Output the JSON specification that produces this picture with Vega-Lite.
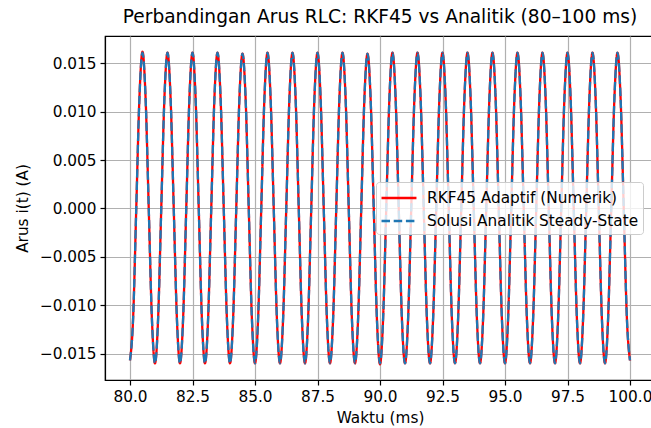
{
"$schema": "https://vega.github.io/schema/vega-lite/v6.json",
"width": 550,
"height": 344,
"autosize": {"type": "none"},
"padding": {"left": 105, "top": 36, "right": 0, "bottom": 48},
"background": "white",
"title": {"text": "Perbandingan Arus RLC: RKF45 vs Analitik (80–100 ms)", "font": "DejaVu Sans", "fontSize": 18.6, "fontWeight": "normal", "color": "black", "offset": 9, "anchor": "middle"},
"config": {
  "view": {"stroke": "black", "strokeWidth": 1.2},
  "axis": {"labelFont": "DejaVu Sans", "labelFontSize": 15.3, "labelColor": "black", "titleFont": "DejaVu Sans", "titleFontSize": 15.3, "titleFontWeight": "normal", "titleColor": "black", "domainColor": "black", "domainWidth": 1.2, "tickColor": "black", "tickWidth": 1.2, "tickSize": 5, "labelPadding": 4, "gridColor": "#b0b0b0", "gridWidth": 1.2, "grid": true}
},
"data": {"values": [
{"t":80,"r":-0.0157,"a":-0.0157},{"t":80.125,"r":-0.01131,"a":-0.01131},{"t":80.25,"r":0,"a":0},{"t":80.375,"r":0.01131,"a":0.01131},{"t":80.5,"r":0.0162,"a":0.0161},{"t":80.625,"r":0.01131,"a":0.01131},{"t":80.75,"r":0,"a":0},{"t":80.875,"r":-0.01131,"a":-0.01131},
{"t":81,"r":-0.016,"a":-0.016},{"t":81.125,"r":-0.01131,"a":-0.01131},{"t":81.25,"r":0,"a":0},{"t":81.375,"r":0.01131,"a":0.01131},{"t":81.5,"r":0.0161,"a":0.0161},{"t":81.625,"r":0.01131,"a":0.01131},{"t":81.75,"r":0,"a":0},{"t":81.875,"r":-0.01131,"a":-0.01131},
{"t":82,"r":-0.016,"a":-0.016},{"t":82.125,"r":-0.01131,"a":-0.01131},{"t":82.25,"r":0,"a":0},{"t":82.375,"r":0.01131,"a":0.01131},{"t":82.5,"r":0.0161,"a":0.0161},{"t":82.625,"r":0.01131,"a":0.01131},{"t":82.75,"r":0,"a":0},{"t":82.875,"r":-0.01131,"a":-0.01131},
{"t":83,"r":-0.016,"a":-0.016},{"t":83.125,"r":-0.01131,"a":-0.01131},{"t":83.25,"r":0,"a":0},{"t":83.375,"r":0.01131,"a":0.01131},{"t":83.5,"r":0.0161,"a":0.0161},{"t":83.625,"r":0.01131,"a":0.01131},{"t":83.75,"r":0,"a":0},{"t":83.875,"r":-0.01131,"a":-0.01131},
{"t":84,"r":-0.016,"a":-0.016},{"t":84.125,"r":-0.01131,"a":-0.01131},{"t":84.25,"r":0,"a":0},{"t":84.375,"r":0.01131,"a":0.01131},{"t":84.5,"r":0.016,"a":0.016},{"t":84.625,"r":0.01131,"a":0.01131},{"t":84.75,"r":0,"a":0},{"t":84.875,"r":-0.01131,"a":-0.01131},
{"t":85,"r":-0.016,"a":-0.016},{"t":85.125,"r":-0.01131,"a":-0.01131},{"t":85.25,"r":0,"a":0},{"t":85.375,"r":0.01131,"a":0.01131},{"t":85.5,"r":0.0161,"a":0.0161},{"t":85.625,"r":0.01131,"a":0.01131},{"t":85.75,"r":0,"a":0},{"t":85.875,"r":-0.01131,"a":-0.01131},
{"t":86,"r":-0.016,"a":-0.016},{"t":86.125,"r":-0.01131,"a":-0.01131},{"t":86.25,"r":0,"a":0},{"t":86.375,"r":0.01131,"a":0.01131},{"t":86.5,"r":0.0161,"a":0.0161},{"t":86.625,"r":0.01131,"a":0.01131},{"t":86.75,"r":0,"a":0},{"t":86.875,"r":-0.01131,"a":-0.01131},
{"t":87,"r":-0.016,"a":-0.016},{"t":87.125,"r":-0.01131,"a":-0.01131},{"t":87.25,"r":0,"a":0},{"t":87.375,"r":0.01131,"a":0.01131},{"t":87.5,"r":0.0161,"a":0.0161},{"t":87.625,"r":0.01131,"a":0.01131},{"t":87.75,"r":0,"a":0},{"t":87.875,"r":-0.01131,"a":-0.01131},
{"t":88,"r":-0.016,"a":-0.016},{"t":88.125,"r":-0.01131,"a":-0.01131},{"t":88.25,"r":0,"a":0},{"t":88.375,"r":0.01131,"a":0.01131},{"t":88.5,"r":0.0161,"a":0.0161},{"t":88.625,"r":0.01131,"a":0.01131},{"t":88.75,"r":0,"a":0},{"t":88.875,"r":-0.01131,"a":-0.01131},
{"t":89,"r":-0.016,"a":-0.016},{"t":89.125,"r":-0.01131,"a":-0.01131},{"t":89.25,"r":0,"a":0},{"t":89.375,"r":0.01131,"a":0.01131},{"t":89.5,"r":0.016,"a":0.016},{"t":89.625,"r":0.01131,"a":0.01131},{"t":89.75,"r":0,"a":0},{"t":89.875,"r":-0.01131,"a":-0.01131},
{"t":90,"r":-0.0161,"a":-0.016},{"t":90.125,"r":-0.01131,"a":-0.01131},{"t":90.25,"r":0,"a":0},{"t":90.375,"r":0.01131,"a":0.01131},{"t":90.5,"r":0.0161,"a":0.0161},{"t":90.625,"r":0.01131,"a":0.01131},{"t":90.75,"r":0,"a":0},{"t":90.875,"r":-0.01131,"a":-0.01131},
{"t":91,"r":-0.016,"a":-0.016},{"t":91.125,"r":-0.01131,"a":-0.01131},{"t":91.25,"r":0,"a":0},{"t":91.375,"r":0.01131,"a":0.01131},{"t":91.5,"r":0.0161,"a":0.0161},{"t":91.625,"r":0.01131,"a":0.01131},{"t":91.75,"r":0,"a":0},{"t":91.875,"r":-0.01131,"a":-0.01131},
{"t":92,"r":-0.016,"a":-0.016},{"t":92.125,"r":-0.01131,"a":-0.01131},{"t":92.25,"r":0,"a":0},{"t":92.375,"r":0.01131,"a":0.01131},{"t":92.5,"r":0.0161,"a":0.0161},{"t":92.625,"r":0.01131,"a":0.01131},{"t":92.75,"r":0,"a":0},{"t":92.875,"r":-0.01131,"a":-0.01131},
{"t":93,"r":-0.016,"a":-0.016},{"t":93.125,"r":-0.01131,"a":-0.01131},{"t":93.25,"r":0,"a":0},{"t":93.375,"r":0.01131,"a":0.01131},{"t":93.5,"r":0.0161,"a":0.0161},{"t":93.625,"r":0.01131,"a":0.01131},{"t":93.75,"r":0,"a":0},{"t":93.875,"r":-0.01131,"a":-0.01131},
{"t":94,"r":-0.016,"a":-0.016},{"t":94.125,"r":-0.01131,"a":-0.01131},{"t":94.25,"r":0,"a":0},{"t":94.375,"r":0.01131,"a":0.01131},{"t":94.5,"r":0.0161,"a":0.0161},{"t":94.625,"r":0.01131,"a":0.01131},{"t":94.75,"r":0,"a":0},{"t":94.875,"r":-0.01131,"a":-0.01131},
{"t":95,"r":-0.016,"a":-0.016},{"t":95.125,"r":-0.01131,"a":-0.01131},{"t":95.25,"r":0,"a":0},{"t":95.375,"r":0.01131,"a":0.01131},{"t":95.5,"r":0.0161,"a":0.0161},{"t":95.625,"r":0.01131,"a":0.01131},{"t":95.75,"r":0,"a":0},{"t":95.875,"r":-0.01131,"a":-0.01131},
{"t":96,"r":-0.016,"a":-0.016},{"t":96.125,"r":-0.01131,"a":-0.01131},{"t":96.25,"r":0,"a":0},{"t":96.375,"r":0.01131,"a":0.01131},{"t":96.5,"r":0.0161,"a":0.0161},{"t":96.625,"r":0.01131,"a":0.01131},{"t":96.75,"r":0,"a":0},{"t":96.875,"r":-0.01131,"a":-0.01131},
{"t":97,"r":-0.016,"a":-0.016},{"t":97.125,"r":-0.01131,"a":-0.01131},{"t":97.25,"r":0,"a":0},{"t":97.375,"r":0.01131,"a":0.01131},{"t":97.5,"r":0.0161,"a":0.0161},{"t":97.625,"r":0.01131,"a":0.01131},{"t":97.75,"r":0,"a":0},{"t":97.875,"r":-0.01131,"a":-0.01131},
{"t":98,"r":-0.016,"a":-0.016},{"t":98.125,"r":-0.01131,"a":-0.01131},{"t":98.25,"r":0,"a":0},{"t":98.375,"r":0.01131,"a":0.01131},{"t":98.5,"r":0.0161,"a":0.0161},{"t":98.625,"r":0.01131,"a":0.01131},{"t":98.75,"r":0,"a":0},{"t":98.875,"r":-0.01131,"a":-0.01131},
{"t":99,"r":-0.016,"a":-0.016},{"t":99.125,"r":-0.01131,"a":-0.01131},{"t":99.25,"r":0,"a":0},{"t":99.375,"r":0.01131,"a":0.01131},{"t":99.5,"r":0.0161,"a":0.0161},{"t":99.625,"r":0.01131,"a":0.01131},{"t":99.75,"r":0,"a":0},{"t":99.875,"r":-0.01131,"a":-0.01131},
{"t":100,"r":-0.0157,"a":-0.0157}
]},
"transform": [{"fold": ["r", "a"], "as": ["seri", "i"]}],
"encoding": {
  "x": {"field": "t", "type": "quantitative", "scale": {"domain": [79, 101], "nice": false, "zero": false}, "axis": {"values": [80, 82.5, 85, 87.5, 90, 92.5, 95, 97.5, 100], "format": ".1f", "title": "Waktu (ms)", "titlePadding": 6}},
  "y": {"field": "i", "type": "quantitative", "scale": {"domain": [-0.01772, 0.01782], "nice": false, "zero": false}, "axis": {"values": [-0.015, -0.01, -0.005, 0, 0.005, 0.01, 0.015], "format": ".3f", "title": "Arus i(t) (A)", "titlePadding": 9}},
  "color": {"field": "seri", "type": "nominal", "scale": {"domain": ["r", "a"], "range": ["#ff0000", "#1f77b4"]},
    "legend": {"title": null, "orient": "none", "legendX": 271, "legendY": 146, "labelExpr": "datum.label == 'r' ? 'RKF45 Adaptif (Numerik)' : 'Solusi Analitik Steady-State'", "labelFont": "DejaVu Sans", "labelFontSize": 15.3, "labelColor": "black", "labelLimit": 400, "symbolType": "M-1,0H2.33", "symbolStrokeWidth": 2.3, "symbolSize": 441, "strokeColor": "#cccccc", "fillColor": "rgba(255,255,255,0.8)", "cornerRadius": 3, "padding": 4, "labelOffset": 23, "rowPadding": 2}},
  "strokeDash": {"field": "seri", "type": "nominal", "scale": {"domain": ["r", "a"], "range": [[1, 0], [8.5, 3.7]]},
    "legend": {"title": null, "orient": "none", "legendX": 271, "legendY": 146, "labelExpr": "datum.label == 'r' ? 'RKF45 Adaptif (Numerik)' : 'Solusi Analitik Steady-State'", "labelFont": "DejaVu Sans", "labelFontSize": 15.3, "labelColor": "black", "labelLimit": 400, "symbolType": "M-1,0H2.33", "symbolStrokeWidth": 2.3, "symbolSize": 441, "strokeColor": "#cccccc", "fillColor": "rgba(255,255,255,0.8)", "cornerRadius": 3, "padding": 4, "labelOffset": 23, "rowPadding": 2}}
},
"layer": [
  {"transform": [{"filter": "datum.seri == 'r'"}], "mark": {"type": "line", "interpolate": "monotone", "strokeWidth": 2.3, "clip": true}},
  {"transform": [{"filter": "datum.seri == 'a'"}], "mark": {"type": "line", "interpolate": "monotone", "strokeWidth": 2.3, "clip": true}}
]
}
